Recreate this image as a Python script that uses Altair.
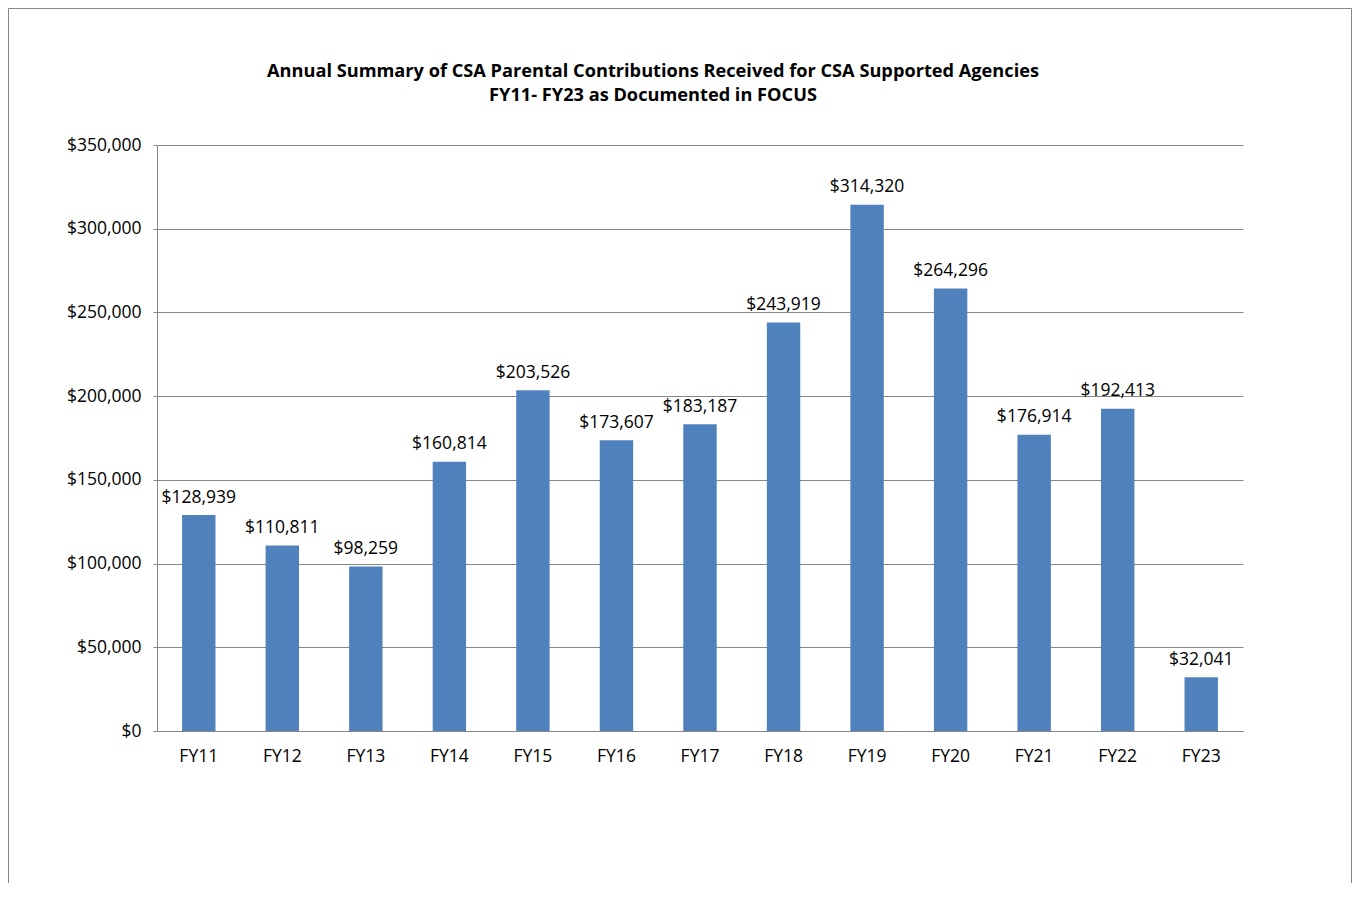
import altair as alt
import pandas as pd

years = ["FY11", "FY12", "FY13", "FY14", "FY15", "FY16", "FY17",
         "FY18", "FY19", "FY20", "FY21", "FY22", "FY23"]
values = [128939, 110811, 98259, 160814, 203526, 173607, 183187,
          243919, 314320, 264296, 176914, 192413, 32041]
y_ticks = [0, 50000, 100000, 150000, 200000, 250000, 300000, 350000]
title_lines = [
    "Annual Summary of CSA Parental Contributions Received for CSA Supported Agencies",
    "FY11- FY23 as Documented in FOCUS",
]

df = pd.DataFrame({"year": years, "value": values})
one = pd.DataFrame({"k": [0]})

W, H = 1086, 586
FONT = "Open Sans"
FS = 17.5
TFS = 18.2
GRAY = "#868686"
BAR = "#4F81BD"

x_enc = alt.X(
    "year:N", sort=years,
    scale=alt.Scale(paddingInner=0.6, paddingOuter=0.3),
    axis=alt.Axis(title=None, labelAngle=0, ticks=False, labelPadding=16,
                  domainColor=GRAY, grid=False, labelFont=FONT,
                  labelFontSize=FS, labelColor="black"),
)
y_enc = alt.Y(
    "value:Q",
    scale=alt.Scale(domain=[0, 350000], nice=False),
    axis=alt.Axis(title=None, values=y_ticks, format="$,.0f", tickSize=4,
                  tickColor=GRAY, domainColor=GRAY, gridColor=GRAY,
                  gridOpacity=1, labelPadding=12, labelFont=FONT,
                  labelFontSize=FS, labelColor="black"),
)

bars = alt.Chart(df).mark_bar(color=BAR).encode(x=x_enc, y=y_enc)

labels = alt.Chart(df).mark_text(
    dy=-12.5, baseline="alphabetic", font=FONT, fontSize=FS, color="black"
).encode(
    x=alt.X("year:N", sort=years),
    y=alt.Y("value:Q"),
    text=alt.Text("value:Q", format="$,.0f"),
)

t1 = alt.Chart(one).mark_text(
    font=FONT, fontSize=TFS, fontWeight="bold", color="black",
    baseline="alphabetic", align="center"
).encode(x=alt.value(496), y=alt.value(-68), text=alt.value(title_lines[0]))
t2 = alt.Chart(one).mark_text(
    font=FONT, fontSize=TFS, fontWeight="bold", color="black",
    baseline="alphabetic", align="center"
).encode(x=alt.value(496), y=alt.value(-44), text=alt.value(title_lines[1]))

top_b = alt.Chart(one).mark_rule(color=GRAY, strokeWidth=1).encode(
    x=alt.value(-148.5), x2=alt.value(1194.5), y=alt.value(-136.5))
left_b = alt.Chart(one).mark_rule(color=GRAY, strokeWidth=1).encode(
    x=alt.value(-148.5), y=alt.value(-136.5), y2=alt.value(738))
right_b = alt.Chart(one).mark_rule(color=GRAY, strokeWidth=1).encode(
    x=alt.value(1194.5), y=alt.value(-136.5), y2=alt.value(738))

chart = alt.layer(bars, labels, t1, t2, top_b, left_b, right_b).properties(
    width=W, height=H,
    autosize=alt.AutoSizeParams(type="none"),
    padding={"left": 149, "top": 137, "right": 110, "bottom": 152},
).configure_view(strokeWidth=0)

chart.save("out.html", embed_options={"renderer": "svg", "actions": False})
